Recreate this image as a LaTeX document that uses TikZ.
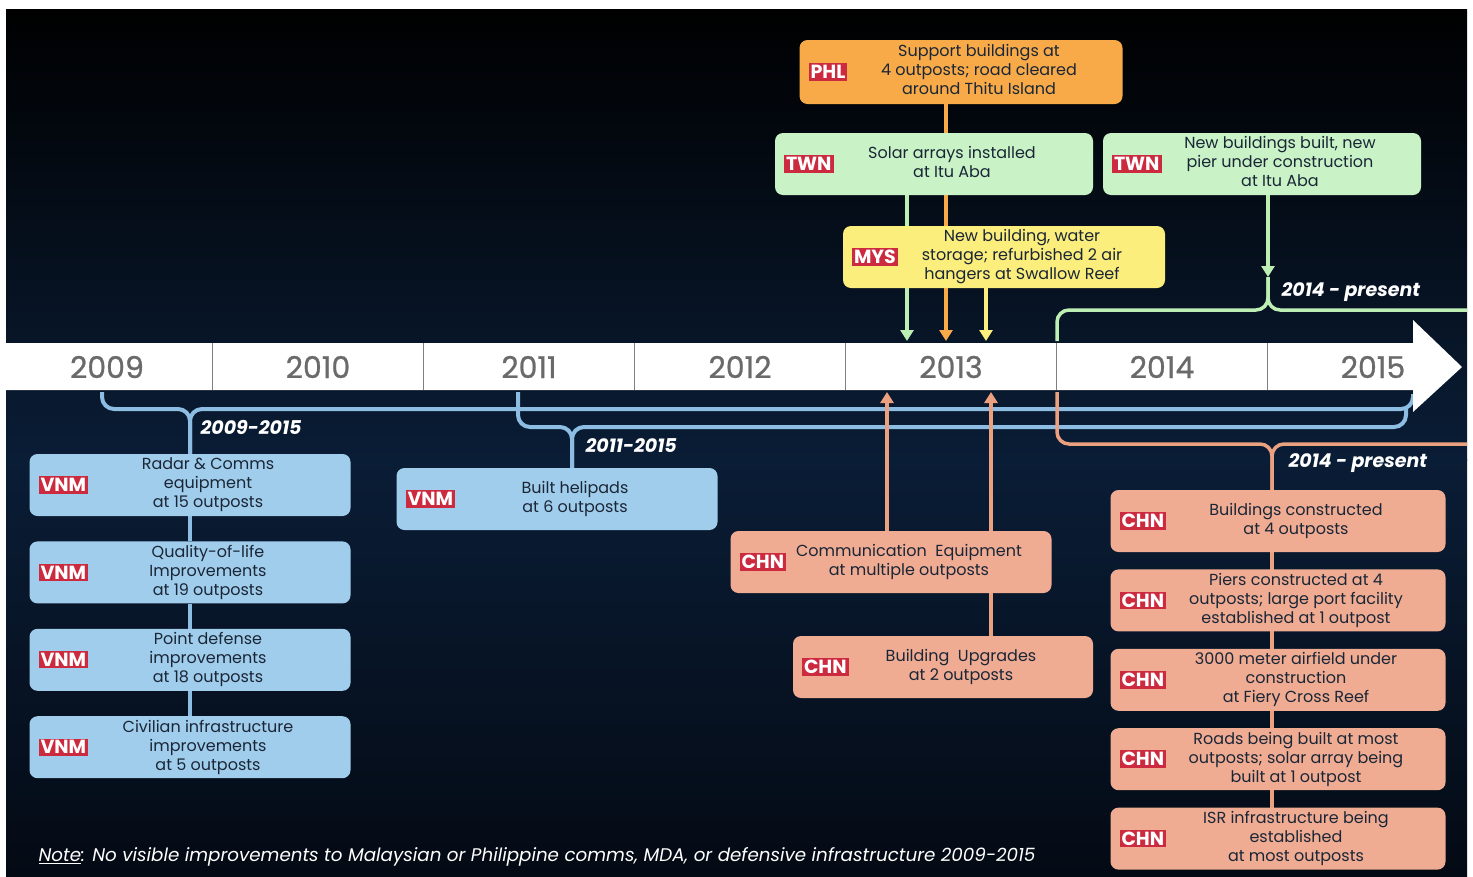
\documentclass[tikz,border=0pt]{standalone}
\usepackage{fontspec}
\setmainfont{Poppins}
\newfontfamily\yearfont{Poppins}[FakeBold=0.8]
\usetikzlibrary{positioning,arrows.meta,backgrounds}

\definecolor{bluebox}{HTML}{A0CDEC}
\definecolor{bluebr}{HTML}{8DBDE3}
\definecolor{greenbox}{HTML}{C9F2C6}
\definecolor{greenbr}{HTML}{BDEFB4}
\definecolor{yellowbox}{HTML}{FCEE7C}
\definecolor{orangebox}{HTML}{F8AA48}
\definecolor{salmonbox}{HTML}{F0AC93}
\definecolor{salmonbr}{HTML}{EBA080}
\definecolor{tagred}{HTML}{CC2A3E}
\definecolor{boxtext}{HTML}{1A2636}
\definecolor{yeargray}{HTML}{6A6A6A}
\definecolor{bgnavy}{HTML}{0A1D36}
\definecolor{bgdark}{HTML}{040A14}

\pgfdeclarelayer{bg}
\pgfdeclarelayer{lines}
\pgfsetlayers{bg,lines,main}

\newcommand\evt[1]{\begin{tabular}{@{\hspace{36pt}}c@{}}#1\end{tabular}}

\tikzset{
  ev/.style={rounded corners=8pt, minimum height=62pt, inner sep=0pt, text=boxtext,
    font=\fontsize{16}{19}\selectfont},
  tag/.style={anchor=west, xshift=9pt, fill=tagred, text=white, sharp corners,
    inner xsep=2pt, inner ysep=2pt, font=\fontsize{19}{19}\selectfont\bfseries},
  tagged/.style={label={[tag]west:#1}},
  vnm/.style={ev, fill=bluebox, minimum width=321pt, tagged=VNM},
  chn/.style={ev, fill=salmonbox, tagged=CHN},
  twn/.style={ev, fill=greenbox, minimum width=318pt, tagged=TWN},
  mys/.style={ev, fill=yellowbox, minimum width=322pt, tagged=MYS},
  phl/.style={ev, fill=orangebox, minimum width=323pt, minimum height=64pt, tagged=PHL},
  year/.style={text=yeargray, font=\fontsize{30}{30}\yearfont},
  divider/.style={draw=gray, line width=1pt},
  period/.style={anchor=west, text=white, font=\fontsize{19}{19}\selectfont\bfseries\itshape},
  bline/.style={draw=bluebr, line width=4pt, rounded corners=12pt},
  gline/.style={draw=greenbr, line width=3.5pt, rounded corners=12pt},
  sline/.style={draw=salmonbr, line width=3.5pt, rounded corners=12pt},
  oline/.style={draw=orangebox, line width=3.5pt},
  yline/.style={draw=yellowbox, line width=3.5pt},
}

\begin{document}
\begin{tikzpicture}[x=1pt, y=-1pt, >={Triangle[width=13pt,length=11pt]}]
\begin{pgfonlayer}{bg}
\fill[white] (0,0) rectangle (1473,876);
\shade[top color=black, bottom color=bgnavy] (6,9) rectangle (1467,460);
\shade[top color=bgnavy, bottom color=bgdark] (6,459) rectangle (1467,876);
\end{pgfonlayer}

% timeline
\fill[white] (6,343) -- (1413,343) -- (1413,320) -- (1462,367) -- (1413,412) -- (1413,390) -- (6,390) -- cycle;
\foreach \i in {1,...,6}
  \draw[divider] ({1+211*\i},343) -- ({1+211*\i},390);
\foreach \yr [count=\i from 0] in {2009,...,2015}
  \node[year] (y\yr) at ({107+211*\i},367) {\yr};
\coordinate (bt) at (0,341);
\coordinate (bb) at (0,392);

% above the timeline
\node[phl] (p1) at (961,72) {\evt{Support buildings at\\4 outposts; road cleared\\around Thitu Island}};
\node[twn] (t1) at (934,164) {\evt{Solar arrays installed\\at Itu Aba}};
\node[twn] (t2) at (1262,164) {\evt{New buildings built, new\\pier under construction\\at Itu Aba}};
\node[mys] (m1) at (1004,257) {\evt{New building, water\\storage; refurbished 2 air\\hangers at Swallow Reef}};

% below the timeline
\node[vnm] (v1) at (190,485) {\evt{Radar \& Comms\\equipment\\at 15 outposts}};
\node[vnm, below=25pt of v1] (v2) {\evt{Quality-of-life\\Improvements\\at 19 outposts}};
\node[vnm, below=25pt of v2] (v3) {\evt{Point defense\\improvements\\at 18 outposts}};
\node[vnm, below=25pt of v3] (v4) {\evt{Civilian infrastructure\\improvements\\at 5 outposts}};
\node[vnm] (v5) at (557,499) {\evt{Built helipads\\at 6 outposts}};

\node[chn, minimum width=321pt] (c1) at (891,562) {\evt{Communication\ \ Equipment\\at multiple outposts}};
\node[chn, minimum width=300pt] (c2) at (943,667) {\evt{Building\ \ Upgrades\\at 2 outposts}};
\node[chn, minimum width=335pt] (c3) at (1278,521) {\evt{Buildings constructed\\at 4 outposts}};
\node[chn, minimum width=335pt, below=17pt of c3] (c4) {\evt{Piers constructed at 4\\outposts; large port facility\\established at 1 outpost}};
\node[chn, minimum width=335pt, below=17pt of c4] (c5) {\evt{3000 meter airfield under\\construction\\at Fiery Cross Reef}};
\node[chn, minimum width=335pt, below=17pt of c5] (c6) {\evt{Roads being built at most\\outposts; solar array being\\built at 1 outpost}};
\node[chn, minimum width=335pt, below=17pt of c6] (c7) {\evt{ISR infrastructure being\\established\\at most outposts}};

\node[period] (l1) at (197,427) {2009-2015};
\node[period] (l2) at (582,446) {2011-2015};
\node[period] (l3) at (1278,292) {2014 - present};
\node[period] (l4) at (1285,463) {2014 - present};

\node[anchor=west, text=white, font=\fontsize{18.3}{18.3}\selectfont\itshape] (n1) at (35,857)
  {\underline{Note}: No visible improvements to Malaysian or Philippine comms, MDA, or defensive infrastructure 2009-2015};

\coordinate (xg) at (907,0);
\coordinate (xo) at (946,0);
\coordinate (xy) at (986,0);
\coordinate (xc) at (887,0);
\coordinate (xu) at (991,0);
\coordinate (s1) at (102,392);
\coordinate (b1) at (190,409);
\coordinate (e1) at (1413,394);
\coordinate (s2) at (518,392);
\coordinate (b2) at (572,427);
\coordinate (e2) at (1406,409);
\coordinate (gs) at (1057,341);
\coordinate (g1) at (1268,310);
\coordinate (ge) at (1467,310);
\coordinate (gtip) at (1268,277);
\coordinate (os) at (1057,392);
\coordinate (o1) at (1272,444);
\coordinate (oe) at (1467,444);

\begin{pgfonlayer}{lines}
\draw[oline,->] (p1.south -| xo) -- (xo |- bt);
\draw[gline,->] (t1.south -| xg) -- (xg |- bt);
\draw[yline,->] (m1.south -| xy) -- (xy |- bt);
\draw[gline,->] (t2.south -| gtip) -- (gtip);
\draw[gline] (gs) |- (g1) -- (gtip);
\draw[gline] (ge) -- (g1) -- (gtip);

\draw[bline] (s1) |- (b1) -- (v1.north);
\draw[bline] (e1) |- (b1) -- (v1.north);
\draw[bline] (s2) |- (b2) -- (b2 |- v5.north);
\draw[bline] (e2) |- (b2) -- (b2 |- v5.north);
\foreach \a/\b in {v1/v2,v2/v3,v3/v4}
  \draw[bline] (\a) -- (\b);

\draw[sline,->] (c1.north -| xc) -- (xc |- bb);
\draw[sline,->] (c2.north -| xu) -- (xu |- bb);
\draw[sline] (os) |- (o1) -- (o1 |- c3.north);
\draw[sline] (oe) -- (o1) -- (o1 |- c3.north);
\foreach \a/\b in {c3/c4,c4/c5,c5/c6,c6/c7}
  \draw[sline] (\a -| o1) -- (\b -| o1);
\end{pgfonlayer}
\end{tikzpicture}
\end{document}
